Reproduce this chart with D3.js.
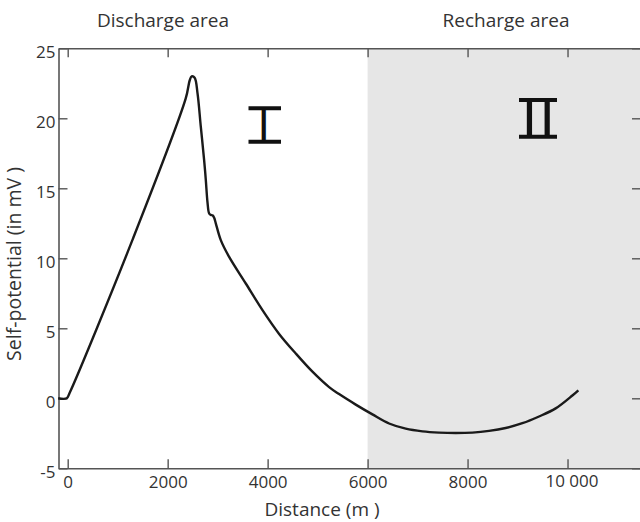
<!DOCTYPE html>
<html>
<head>
<meta charset="utf-8">
<script src="https://cdn.jsdelivr.net/npm/d3@7/dist/d3.min.js"></script>
<style>
  html, body { margin: 0; padding: 0; background: #fff; }
  svg { display: block; }
  text { font-family: "Open Sans", "Noto Sans", sans-serif; fill: #333; }
</style>
</head>
<body>
<svg id="chart" width="640" height="522"></svg>
<script>
// ---- data ----
const distance  = [-190, -20, 40, 1300, 2360, 2440, 2480, 2540, 2597, 2663, 2730, 2763, 2797, 2830, 2863, 2897, 2930, 2963, 3063, 3230, 3563, 3897, 4230, 4563, 4897, 5230, 5430, 5763, 6097, 6430, 6763, 7097, 7430, 7763, 8097, 8430, 8763, 9097, 9430, 9763, 10097, 10217];
const potential = [0, 0, 0.4, 11.35, 21.4, 22.7, 23.0, 22.9, 21.8, 19.4, 17.0, 15.6, 14.0, 13.2, 13.1, 13.07, 12.9, 12.5, 11.3, 10.1, 8.2, 6.3, 4.6, 3.2, 1.9, 0.8, 0.3, -0.45, -1.15, -1.8, -2.17, -2.36, -2.45, -2.48, -2.45, -2.33, -2.12, -1.78, -1.3, -0.72, 0.2, 0.57];

const xTicks = [0, 2000, 4000, 6000, 8000, 10000];
const xTickLabels = ["0", "2000", "4000", "6000", "8000", "10 000"];
const yTicks = [-5, 0, 5, 10, 15, 20, 25];
const yTickLabels = ["-5", "0", "5", "10", "15", "20", "25"];
const xDomain = [-184, 11480];
const yDomain = [-5, 25];
const rechargeStart = 6000;
const areaLabels = ["Discharge area", "Recharge area"];
const zoneLabels = ["Ⅰ", "Ⅱ"];
const xTitle = "Distance (m  )";
const yTitle = "Self-potential (in mV  )";

// ---- layout ----
const mLeft = 58.5, mRight = 641.5, mTop = 48.3, mBottom = 468.3;
const svg = d3.select("#chart");
const x = d3.scaleLinear().domain(xDomain).range([mLeft, mRight]);
const y = d3.scaleLinear().domain(yDomain).range([mBottom, mTop]);

// recharge (grey) zone
svg.append("rect")
  .attr("x", x(rechargeStart)).attr("y", y(yDomain[1]))
  .attr("width", 640 - x(rechargeStart)).attr("height", y(yDomain[0]) - y(yDomain[1]))
  .attr("fill", "#e6e6e6");

const axisColor = "#555";
function styleAxis(g) {
  g.select(".domain").attr("stroke", axisColor).attr("stroke-width", 1.6);
  g.selectAll(".tick line").attr("stroke", axisColor).attr("stroke-width", 1.4);
  g.selectAll(".tick text").attr("fill", "#333")
    .style("font-family", '"Open Sans", sans-serif').style("font-size", "17px");
}

// bottom axis
const gx = svg.append("g").attr("transform", `translate(0,${mBottom})`)
  .call(d3.axisBottom(x).tickValues(xTicks)
    .tickFormat((d, i) => xTickLabels[i]).tickSizeInner(-9).tickSizeOuter(0).tickPadding(8));
styleAxis(gx);
gx.selectAll(".tick text").filter(d => d === 10000).attr("dx", 4).attr("dy", "0.62em");

// top axis
const gt = svg.append("g").attr("transform", `translate(0,${mTop})`)
  .call(d3.axisTop(x).tickValues(xTicks).tickFormat("").tickSizeInner(-9).tickSizeOuter(0));
styleAxis(gt);

// left axis
const gy = svg.append("g").attr("transform", `translate(${mLeft},0)`)
  .call(d3.axisLeft(y).tickValues(yTicks).tickFormat((d, i) => yTickLabels[i])
    .tickSizeInner(-9).tickSizeOuter(0).tickPadding(3));
styleAxis(gy);
gy.selectAll(".tick text").attr("dy", "0.52em");

// right axis (ticks only, frame falls just off the page)
const gr = svg.append("g").attr("transform", `translate(${mRight},0)`)
  .call(d3.axisRight(y).tickValues(yTicks).tickFormat("").tickSizeInner(-9.5).tickSizeOuter(0));
styleAxis(gr);

// curve
const line = d3.line()
  .x((d, i) => x(distance[i]))
  .y((d, i) => y(potential[i]))
  .curve(d3.curveCatmullRom.alpha(0.5));
svg.append("path")
  .attr("d", line(distance))
  .attr("fill", "none")
  .attr("stroke", "#1a1a1a")
  .attr("stroke-width", 2.4)
  .attr("stroke-linejoin", "round");

// area labels
svg.append("text").attr("x", 163).attr("y", 26.5).attr("text-anchor", "middle")
  .style("font-size", "19px").text(areaLabels[0]);
svg.append("text").attr("x", 506).attr("y", 27).attr("text-anchor", "middle")
  .style("font-size", "19px").text(areaLabels[1]);

// axis titles
svg.append("text").attr("x", 322).attr("y", 516).attr("text-anchor", "middle")
  .style("font-size", "19px").text(xTitle);
svg.append("text").attr("transform", "translate(21,264) rotate(-90)").attr("text-anchor", "middle")
  .style("font-size", "19.5px").text(yTitle);

// zone numerals: glyph stems fitted to the reference box, with bar serifs
const zoneFont = '"Noto Sans CJK SC", "Noto Sans CJK JP", sans-serif';
const zoneWeights = [400, 350];
// [stem-left, stem-right, bar-top-y, bar-bottom-y, bar-left, bar-right]
const zoneBoxes = [[261.5, 265.8, 108.3, 141.7, 248.5, 281], [526.6, 550, 100, 136.7, 519, 557]];
const ctx = document.createElement("canvas").getContext("2d");
zoneLabels.forEach((t, i) => {
  ctx.font = `${zoneWeights[i]} 100px ${zoneFont}`;
  const m = ctx.measureText(t);
  const inkL = -m.actualBoundingBoxLeft, inkR = m.actualBoundingBoxRight;
  const inkT = -m.actualBoundingBoxAscent, inkB = m.actualBoundingBoxDescent;
  const [sl, sr, bt, bb, bl, br] = zoneBoxes[i];
  const sx = (sr - sl) / (inkR - inkL), sy = (bb - bt) / (inkB - inkT);
  svg.append("text")
    .attr("transform", `translate(${sl - inkL * sx},${bt - inkT * sy}) scale(${sx},${sy})`)
    .style("font-family", zoneFont).style("font-weight", zoneWeights[i])
    .style("font-size", "100px").style("fill", "#111")
    .text(t);
  [bt, bb].forEach(yy => svg.append("line")
    .attr("x1", bl).attr("x2", br).attr("y1", yy).attr("y2", yy)
    .attr("stroke", "#111").attr("stroke-width", 4));
});
</script>
</body>
</html>
